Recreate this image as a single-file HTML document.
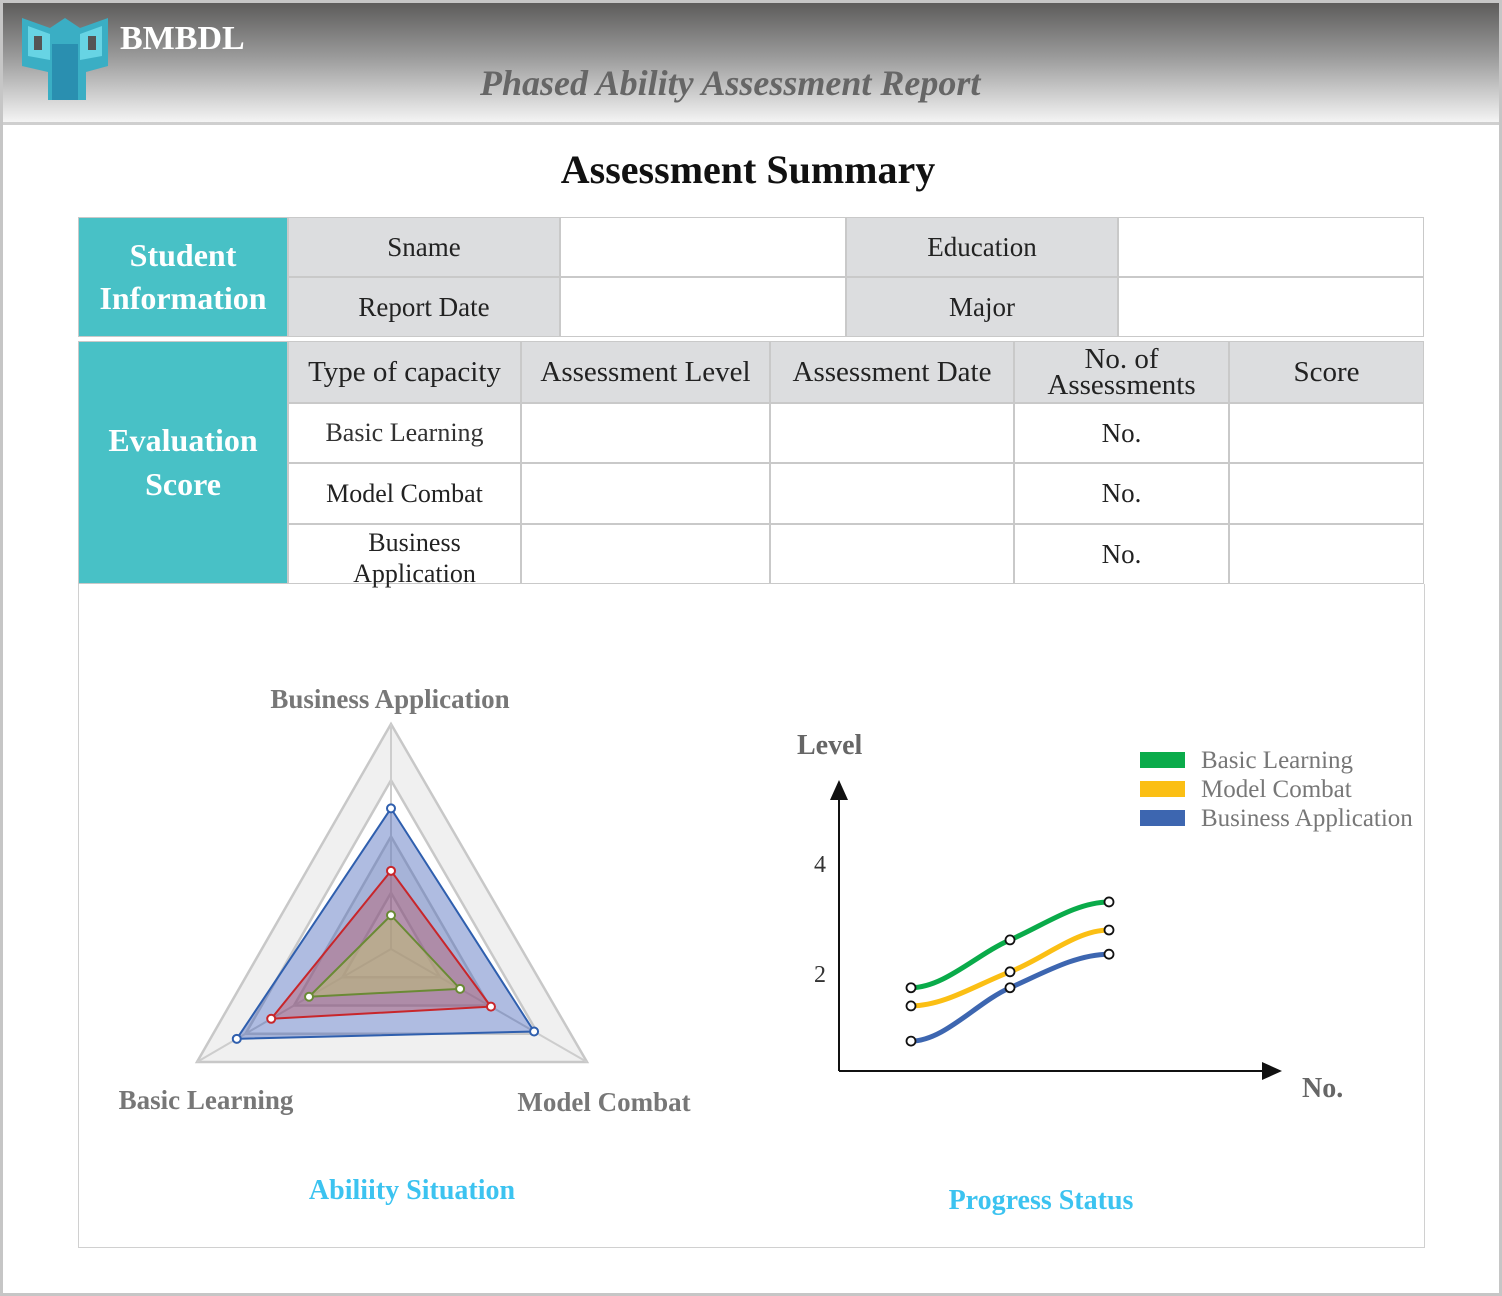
<!DOCTYPE html>
<html><head><meta charset="utf-8">
<style>
*{margin:0;padding:0;box-sizing:border-box}
body{width:1502px;height:1296px;background:#fff;font-family:"Liberation Serif",serif;position:relative;overflow:hidden}
.abs{position:absolute}
.c{position:absolute;display:flex;align-items:center;justify-content:center;text-align:center;border:1.5px solid #c9c9c9;color:#222;font-size:27px;line-height:1}
.g{background:#dcdddf}
.t{background:#48c1c6;color:#fff;font-weight:bold;font-size:32px;line-height:1.35;border-color:#c9c9c9}
</style></head>
<body>
<div class="abs" style="left:0;top:0;width:1502px;height:1296px;border:3px solid #c6c6c6"></div>
<div class="abs" style="left:3px;top:3px;width:1496px;height:122px;background:linear-gradient(#5d5c5b,#9a9a9a 45%,#f4f4f4);border-bottom:3px solid #cfcfcf"></div>
<svg class="abs" style="left:20px;top:14px" width="90" height="88" viewBox="0 0 90 88">
<path d="M2 4 L30 14 L45 4 L60 14 L88 4 L88 52 L66 58 L66 86 L28 86 L28 58 L2 52 Z" fill="#3aaec4"/>
<path d="M8 12 L30 20 L30 46 L8 42Z M82 12 L60 20 L60 46 L82 42Z" fill="#67d4e4"/>
<rect x="32" y="30" width="26" height="56" fill="#2a8fb0"/>
<rect x="14" y="22" width="8" height="14" fill="#555"/><rect x="68" y="22" width="8" height="14" fill="#555"/>
</svg>
<div class="abs" style="left:120px;top:20px;font-size:34px;font-weight:bold;color:#fff">BMBDL</div>
<div class="abs" style="left:480px;top:62px;font-size:36px;font-weight:bold;font-style:italic;color:#666">Phased Ability Assessment Report</div>
<div class="abs" style="left:0;width:1496px;top:146px;text-align:center;font-size:40px;font-weight:bold;color:#111">Assessment Summary</div>

<div class="c t" style="left:78px;top:217px;width:210px;height:120px">Student<br>Information</div>
<div class="c g" style="left:288px;top:217px;width:272px;height:60px">Sname</div>
<div class="c" style="left:560px;top:217px;width:286px;height:60px"></div>
<div class="c g" style="left:846px;top:217px;width:272px;height:60px">Education</div>
<div class="c" style="left:1118px;top:217px;width:306px;height:60px"></div>
<div class="c g" style="left:288px;top:277px;width:272px;height:60px">Report Date</div>
<div class="c" style="left:560px;top:277px;width:286px;height:60px"></div>
<div class="c g" style="left:846px;top:277px;width:272px;height:60px">Major</div>
<div class="c" style="left:1118px;top:277px;width:306px;height:60px"></div>

<div class="c t" style="left:78px;top:341px;width:210px;height:243px">Evaluation<br>Score</div>
<div class="c g" style="left:288px;top:341px;width:233px;height:62px;font-size:29px">Type of capacity</div>
<div class="c g" style="left:521px;top:341px;width:249px;height:62px;font-size:29px">Assessment Level</div>
<div class="c g" style="left:770px;top:341px;width:244px;height:62px;font-size:29px">Assessment Date</div>
<div class="c g" style="left:1014px;top:341px;width:215px;height:62px;font-size:29px;line-height:0.9">No. of<br>Assessments</div>
<div class="c g" style="left:1229px;top:341px;width:195px;height:62px;font-size:29px">Score</div>

<div class="c" style="left:288px;top:403px;width:233px;height:60px;font-size:26px;color:#333">Basic Learning</div>
<div class="c" style="left:521px;top:403px;width:249px;height:60px"></div>
<div class="c" style="left:770px;top:403px;width:244px;height:60px"></div>
<div class="c" style="left:1014px;top:403px;width:215px;height:60px">No.</div>
<div class="c" style="left:1229px;top:403px;width:195px;height:60px"></div>

<div class="c" style="left:288px;top:463px;width:233px;height:61px;font-size:26px">Model Combat</div>
<div class="c" style="left:521px;top:463px;width:249px;height:61px"></div>
<div class="c" style="left:770px;top:463px;width:244px;height:61px"></div>
<div class="c" style="left:1014px;top:463px;width:215px;height:61px">No.</div>
<div class="c" style="left:1229px;top:463px;width:195px;height:61px"></div>

<div class="c" style="left:288px;top:524px;width:233px;height:60px;font-size:26px;line-height:1.2;padding-left:20px;padding-top:8px">Business<br>Application</div>
<div class="c" style="left:521px;top:524px;width:249px;height:60px"></div>
<div class="c" style="left:770px;top:524px;width:244px;height:60px"></div>
<div class="c" style="left:1014px;top:524px;width:215px;height:60px">No.</div>
<div class="c" style="left:1229px;top:524px;width:195px;height:60px"></div>

<div class="abs" style="left:78px;top:584px;width:1347px;height:664px;border:1.5px solid #d0d0d0;border-top:none"></div>

<svg class="abs" id="charts" style="left:0;top:0" width="1502" height="1296" font-family="Liberation Serif, serif"></svg>

<script>
// Radar chart data
const radarAxes = ["Business Application", "Model Combat", "Basic Learning"];
const radarMax = 4;
const radarLevels = [1, 2, 3, 4];
const radarBlue = [2.5, 2.92, 3.18];
const radarRed = [1.39, 2.04, 2.47];
const radarGreen = [0.6, 1.41, 1.69];

// Line chart data
const lineX = [1, 2, 3];
const lineYTicks = [2, 4];
const lineBasic = [1.75, 2.62, 3.31];
const lineModel = [1.42, 2.04, 2.8];
const lineBusiness = [0.78, 1.75, 2.36];
const lineSeriesNames = ["Basic Learning", "Model Combat", "Business Application"];

const NS = "http://www.w3.org/2000/svg";
const svg = document.getElementById("charts");
function mk(tag, attrs, parent) {
  const e = document.createElementNS(NS, tag);
  for (const k in attrs) e.setAttribute(k, attrs[k]);
  (parent || svg).appendChild(e);
  return e;
}

const rc = {x: 391, y: 949};
const rdir = [[0, -225], [196, 113], [-194, 113]];
function rpt(i, v) { const f = v / radarMax; return [rc.x + rdir[i][0] * f, rc.y + rdir[i][1] * f]; }
function poly(vals) { return vals.map((v, i) => rpt(i, v).join(",")).join(" "); }

const grid = mk("g", {});


radarLevels.slice().reverse().forEach((lv, k) => {
  const p = mk("polygon", {points: poly([lv, lv, lv]), fill: k % 2 === 0 ? "#f0f0f0" : "#fff", stroke: "#c8c8c8", "stroke-width": 2.5}, grid);
  
  
});
radarAxes.forEach((a, i) => {
  const e = rpt(i, radarMax);
  const l = mk("line", {x1: rc.x, y1: rc.y, x2: e[0], y2: e[1], stroke: "#cdcdcd", "stroke-width": 2}, grid);
  
  
});
const rseries = [[radarBlue, "#2f5fae", "rgba(64,96,184,0.42)", "blue"], [radarRed, "#c8262b", "rgba(190,70,80,0.35)", "red"], [radarGreen, "#6a8a35", "rgba(190,190,120,0.55)", "green"]];
rseries.forEach(s => {
  const g = mk("g", {});
  
  
  mk("polygon", {points: poly(s[0]), fill: s[2], stroke: s[1], "stroke-width": 2}, g);
  s[0].forEach((v, i) => {
    const p = rpt(i, v);
    const c = mk("circle", {cx: p[0], cy: p[1], r: 4, fill: "#fff", stroke: s[1], "stroke-width": 2}, g);
    
    
  });
});
const radarLabelPos = [[390, 708, "middle"], [604, 1111, "middle"], [206, 1109, "middle"]];
radarAxes.forEach((a, i) => {
  const t = mk("text", {x: radarLabelPos[i][0], y: radarLabelPos[i][1], "text-anchor": radarLabelPos[i][2], "font-size": 27, "font-weight": "bold", fill: "#777"});
  t.textContent = a;
  
  
});
const rt = mk("text", {x: 412, y: 1199, "text-anchor": "middle", "font-size": 28, "font-weight": "bold", fill: "#3cc3f0"});
rt.textContent = "Abiliity Situation";



function lx(n) { return 812 + 99 * n; }
function ly(v) { return 1084 - 55 * v; }
const ax = mk("g", {});


mk("line", {x1: 839, y1: 1071, x2: 839, y2: 795, stroke: "#111", "stroke-width": 2}, ax);
mk("polygon", {points: "830,800 839,780 848,800", fill: "#111"}, ax);
mk("line", {x1: 839, y1: 1071, x2: 1266, y2: 1071, stroke: "#111", "stroke-width": 2}, ax);
mk("polygon", {points: "1262,1062 1282,1071 1262,1080", fill: "#111"}, ax);
lineYTicks.forEach(v => {
  const t = mk("text", {x: 826, y: ly(v) + 8, "text-anchor": "end", "font-size": 24, fill: "#333"}, ax);
  t.textContent = v;
  
  
});
const yl = mk("text", {x: 797, y: 754, "font-size": 28, "font-weight": "bold", fill: "#666"});
yl.textContent = "Level";


const xl = mk("text", {x: 1302, y: 1097, "font-size": 28, "font-weight": "bold", fill: "#666"});
xl.textContent = "No.";



function smooth(pts) {
  const n = pts.length;
  const tan = pts.map((p, i) => (i === 0 || i === n - 1) ? 0 : (pts[i + 1][1] - pts[i - 1][1]) / (pts[i + 1][0] - pts[i - 1][0]));
  let d = "M" + pts[0][0] + "," + pts[0][1];
  for (let i = 0; i < n - 1; i++) {
    const p1 = pts[i], p2 = pts[i + 1], dx = (p2[0] - p1[0]) / 3;
    d += " C" + (p1[0] + dx) + "," + (p1[1] + tan[i] * dx) + " " + (p2[0] - dx) + "," + (p2[1] - tan[i + 1] * dx) + " " + p2[0] + "," + p2[1];
  }
  return d;
}
const lseries = [[lineBasic, "#0aab4a"], [lineModel, "#fbbf14"], [lineBusiness, "#3d66b0"]];
lseries.forEach((s, k) => {
  const g = mk("g", {});
  
  
  const pts = s[0].map((v, i) => [lx(lineX[i]), ly(v)]);
  mk("path", {d: smooth(pts), fill: "none", stroke: s[1], "stroke-width": 5}, g);
  pts.forEach(p => {
    const c = mk("circle", {cx: p[0], cy: p[1], r: 4.5, fill: "#fff", stroke: "#111", "stroke-width": 1.8}, g);
    
    
  });
  const lg = mk("g", {});
  
  
  mk("rect", {x: 1140, y: 752 + k * 29, width: 45, height: 16, fill: s[1]}, lg);
  const t = mk("text", {x: 1201, y: 768 + k * 29, "font-size": 25, fill: "#777"}, lg);
  t.textContent = lineSeriesNames[k];
});
const lt = mk("text", {x: 1041, y: 1209, "text-anchor": "middle", "font-size": 28, "font-weight": "bold", fill: "#3cc3f0"});
lt.textContent = "Progress Status";


</script>
</body></html>
